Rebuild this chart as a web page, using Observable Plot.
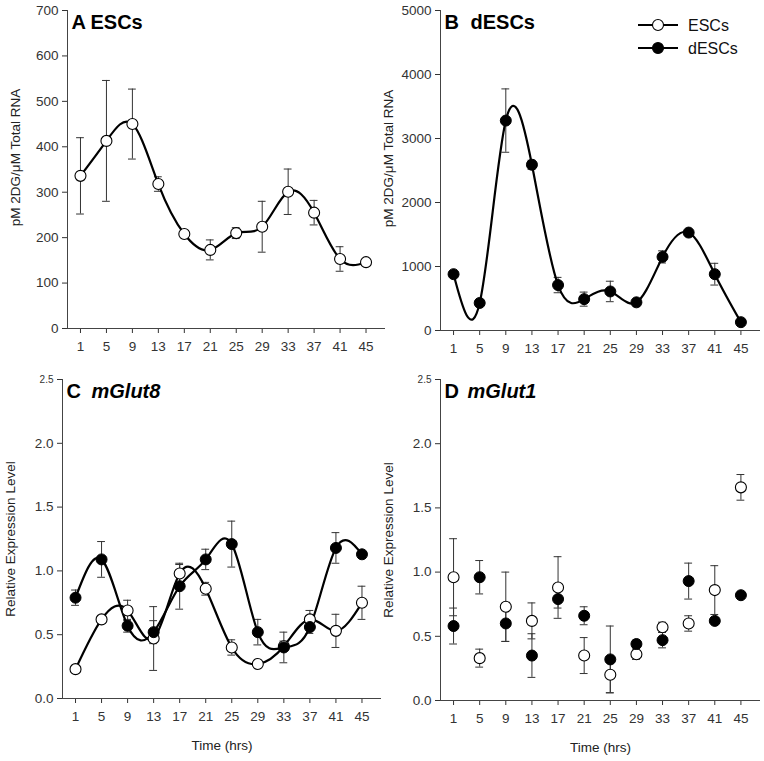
<!DOCTYPE html>
<html>
<head>
<meta charset="utf-8">
<script src="https://cdn.jsdelivr.net/npm/d3@7"></script>
<script src="https://cdn.jsdelivr.net/npm/@observablehq/plot@0.6"></script>
<style>
  html, body { margin: 0; padding: 0; background: white; }
  #root { position: relative; width: 764px; height: 761px; font-family: "Liberation Sans", Arial, sans-serif; }
  #root > svg, #root > div { position: absolute; }
</style>
</head>
<body>
<div id="root"></div>
<script>
// ---- data ----
const hours = [1, 5, 9, 13, 17, 21, 25, 29, 33, 37, 41, 45];
const hourTicks = [1, 5, 9, 13, 17, 21, 25, 29, 33, 37, 41, 45];

// Panel A: 2DG uptake, ESCs (pM 2DG / uM total RNA)
const escUptake    = [336, 413, 450, 318, 208, 173, 210, 224, 301, 255, 153, 146];
const escUptakeErr = [84, 133, 77, 16, 6, 22, 12, 56, 50, 27, 27, 0];

// Panel B: 2DG uptake, dESCs
const descUptake    = [880, 430, 3280, 2590, 710, 490, 610, 440, 1150, 1530, 880, 130];
const descUptakeErr = [0, 0, 495, 70, 120, 110, 160, 0, 95, 0, 170, 0];

// Panel C: mGlut8 relative expression
const glut8Esc     = [0.23, 0.62, 0.69, 0.47, 0.98, 0.86, 0.40, 0.27, 0.41, 0.62, 0.53, 0.75];
const glut8EscErr  = [0, 0, 0.08, 0.25, 0.07, 0.05, 0.06, 0.01, 0.04, 0.07, 0.13, 0.13];
const glut8Desc    = [0.79, 1.09, 0.57, 0.52, 0.88, 1.09, 1.21, 0.52, 0.40, 0.56, 1.18, 1.13];
const glut8DescErr = [0.06, 0.14, 0.05, 0.09, 0.18, 0.08, 0.18, 0.10, 0.12, 0.05, 0.12, 0.01];

// Panel D: mGlut1 relative expression
const glut1Esc     = [0.96, 0.33, 0.73, 0.62, 0.88, 0.35, 0.20, 0.36, 0.57, 0.60, 0.86, 1.66];
const glut1EscErr  = [0.30, 0.07, 0.27, 0.14, 0.24, 0.14, 0.14, 0.04, 0.04, 0.06, 0.19, 0.10];
const glut1Desc    = [0.58, 0.96, 0.60, 0.35, 0.79, 0.66, 0.32, 0.44, 0.47, 0.93, 0.62, 0.82];
const glut1DescErr = [0.14, 0.13, 0.14, 0.17, 0.07, 0.07, 0.26, 0.03, 0.06, 0.14, 0.01, 0.01];

const ticksA = [0, 100, 200, 300, 400, 500, 600, 700];
const ticksB = [0, 1000, 2000, 3000, 4000, 5000];
const ticksExpr = [0, 0.5, 1.0, 1.5, 2.0, 2.5];

const legendLabels = ["ESCs", "dESCs"];
const uptakeLabel = "pM 2DG/\u03BCM Total RNA";
const exprLabel = "Relative Expression Level";
const timeLabel = "Time (hrs)";

// ---- helpers ----
const FONT = "Liberation Sans, Arial, sans-serif";
const table = (vals, errs) => hours.map((t, i) => ({t, m: vals[i], e: errs[i]}));
const CAP = 0.6; // half cap width in hours

function errorMarks(d) {
  const withErr = d.filter(r => r.e > 0);
  return [
    Plot.ruleX(withErr, {x: "t", y1: r => r.m - r.e, y2: r => r.m + r.e, stroke: "#333", strokeWidth: 1}),
    Plot.ruleY(withErr, {y: r => r.m + r.e, x1: r => r.t - CAP, x2: r => r.t + CAP, stroke: "#333", strokeWidth: 1}),
    Plot.ruleY(withErr, {y: r => r.m - r.e, x1: r => r.t - CAP, x2: r => r.t + CAP, stroke: "#333", strokeWidth: 1})
  ];
}
const dotOpen = d => Plot.dot(d, {x: "t", y: "m", r: 5.5, fill: "white", stroke: "black", strokeWidth: 1.1});
const dotFill = d => Plot.dot(d, {x: "t", y: "m", r: 5.5, fill: "black", stroke: "black", strokeWidth: 1});
const curve = d => Plot.line(d, {x: "t", y: "m", curve: "natural", stroke: "black", strokeWidth: 2.2});

function titleMarks(letter, name, italic, gap) {
  return [
    Plot.text([letter], {frameAnchor: "top-left", textAnchor: "start", lineAnchor: "top", dx: 4, dy: 4,
      fontSize: 20, fontWeight: "bold", fill: "black", fontFamily: FONT}),
    Plot.text([name], {frameAnchor: "top-left", textAnchor: "start", lineAnchor: "top", dx: 4 + gap, dy: 4,
      fontSize: 20, fontWeight: "bold", fontStyle: italic ? "italic" : "normal", fill: "black", fontFamily: FONT})
  ];
}

function panel({left, top, width, height, ml, mr, mt, mb, yDomain, yTicks, yFormat, marks, ylab, ylabDy, xlab, smallTop}) {
  const extra = [
    Plot.ruleY([yDomain[0]], {stroke: "#444", strokeWidth: 1}),
    Plot.ruleX([-1], {stroke: "#444", strokeWidth: 1}),
    Plot.text([ylab], {frameAnchor: "left", textAnchor: "middle", lineAnchor: "middle", rotate: -90, dx: -52, dy: ylabDy,
      fontSize: 13.5, fill: "#222", fontFamily: FONT})
  ];
  if (xlab) extra.push(Plot.text([xlab], {frameAnchor: "bottom", textAnchor: "middle", dy: 51, fontSize: 13.5, fill: "#222", fontFamily: FONT}));
  const svg = Plot.plot({
    width, height,
    marginLeft: ml, marginRight: mr, marginTop: mt, marginBottom: mb,
    style: {background: "transparent", overflow: "visible", fontFamily: FONT, fontSize: "13.5px", color: "#333"},
    x: {domain: [-1, 48], ticks: hourTicks, tickSize: 5, tickPadding: 8, label: null},
    y: {domain: yDomain, ticks: yTicks, tickSize: 5, tickPadding: 4, tickFormat: yFormat, label: null},
    marks: [...extra, ...marks]
  });
  if (smallTop) {
    const labels = svg.querySelectorAll('g[aria-label="y-axis tick label"] text');
    if (labels.length) labels[labels.length - 1].setAttribute("font-size", "10px");
  }
  svg.style.left = left + "px";
  svg.style.top = top + "px";
  document.getElementById("root").appendChild(svg);
}

const dA = table(escUptake, escUptakeErr);
const dB = table(descUptake, descUptakeErr);
const dC1 = table(glut8Esc, glut8EscErr);
const dC2 = table(glut8Desc, glut8DescErr);
const dD1 = table(glut1Esc, glut1EscErr);
const dD2 = table(glut1Desc, glut1DescErr);

panel({left: 0, top: 0, width: 390, height: 380, ml: 67, mr: 5, mt: 10, mb: 52,
  yDomain: [0, 700], yTicks: ticksA, yFormat: d3.format("d"), ylab: uptakeLabel, ylabDy: -12,
  marks: [...errorMarks(dA), curve(dA), dotOpen(dA), ...titleMarks("A", "ESCs", false, 19)]});

panel({left: 380, top: 0, width: 384, height: 380, ml: 60, mr: 4, mt: 10, mb: 50,
  yDomain: [0, 5000], yTicks: ticksB, yFormat: d3.format("d"), ylab: uptakeLabel, ylabDy: -12,
  marks: [...errorMarks(dB), curve(dB), dotFill(dB), ...titleMarks("B", "dESCs", false, 26)]});

panel({left: 0, top: 370, width: 390, height: 391, ml: 62, mr: 9, mt: 9, mb: 63, smallTop: true,
  yDomain: [0, 2.5], yTicks: ticksExpr, yFormat: d3.format(".1f"), ylab: exprLabel, ylabDy: 0, xlab: timeLabel,
  marks: [...errorMarks(dC1), ...errorMarks(dC2), curve(dC1), curve(dC2), dotOpen(dC1), dotFill(dC2),
          ...titleMarks("C", "mGlut8", true, 25)]});

panel({left: 380, top: 370, width: 384, height: 391, ml: 60, mr: 4, mt: 9, mb: 61, smallTop: true,
  yDomain: [0, 2.5], yTicks: ticksExpr, yFormat: d3.format(".1f"), ylab: exprLabel, ylabDy: 0, xlab: timeLabel,
  marks: [...errorMarks(dD1), ...errorMarks(dD2), dotOpen(dD1), dotFill(dD2),
          ...titleMarks("D", "mGlut1", true, 23)]});

// ---- legend (inside panel B) ----
const leg = d3.create("svg").attr("width", 130).attr("height", 50)
  .style("left", "632px").style("top", "12px").style("overflow", "visible");
legendLabels.forEach((lab, i) => {
  const g = leg.append("g").attr("transform", `translate(0,${13 + i * 23})`);
  g.append("line").attr("x1", 6).attr("x2", 46).attr("stroke", "black").attr("stroke-width", 2.2);
  g.append("circle").attr("cx", 26).attr("r", 5.5).attr("fill", i ? "black" : "white").attr("stroke", "black").attr("stroke-width", 1.1);
  g.append("text").attr("x", 56).attr("dy", "0.35em").attr("font-size", 16).attr("font-family", FONT).attr("fill", "#111").text(lab);
});
document.getElementById("root").appendChild(leg.node());
</script>
</body>
</html>
